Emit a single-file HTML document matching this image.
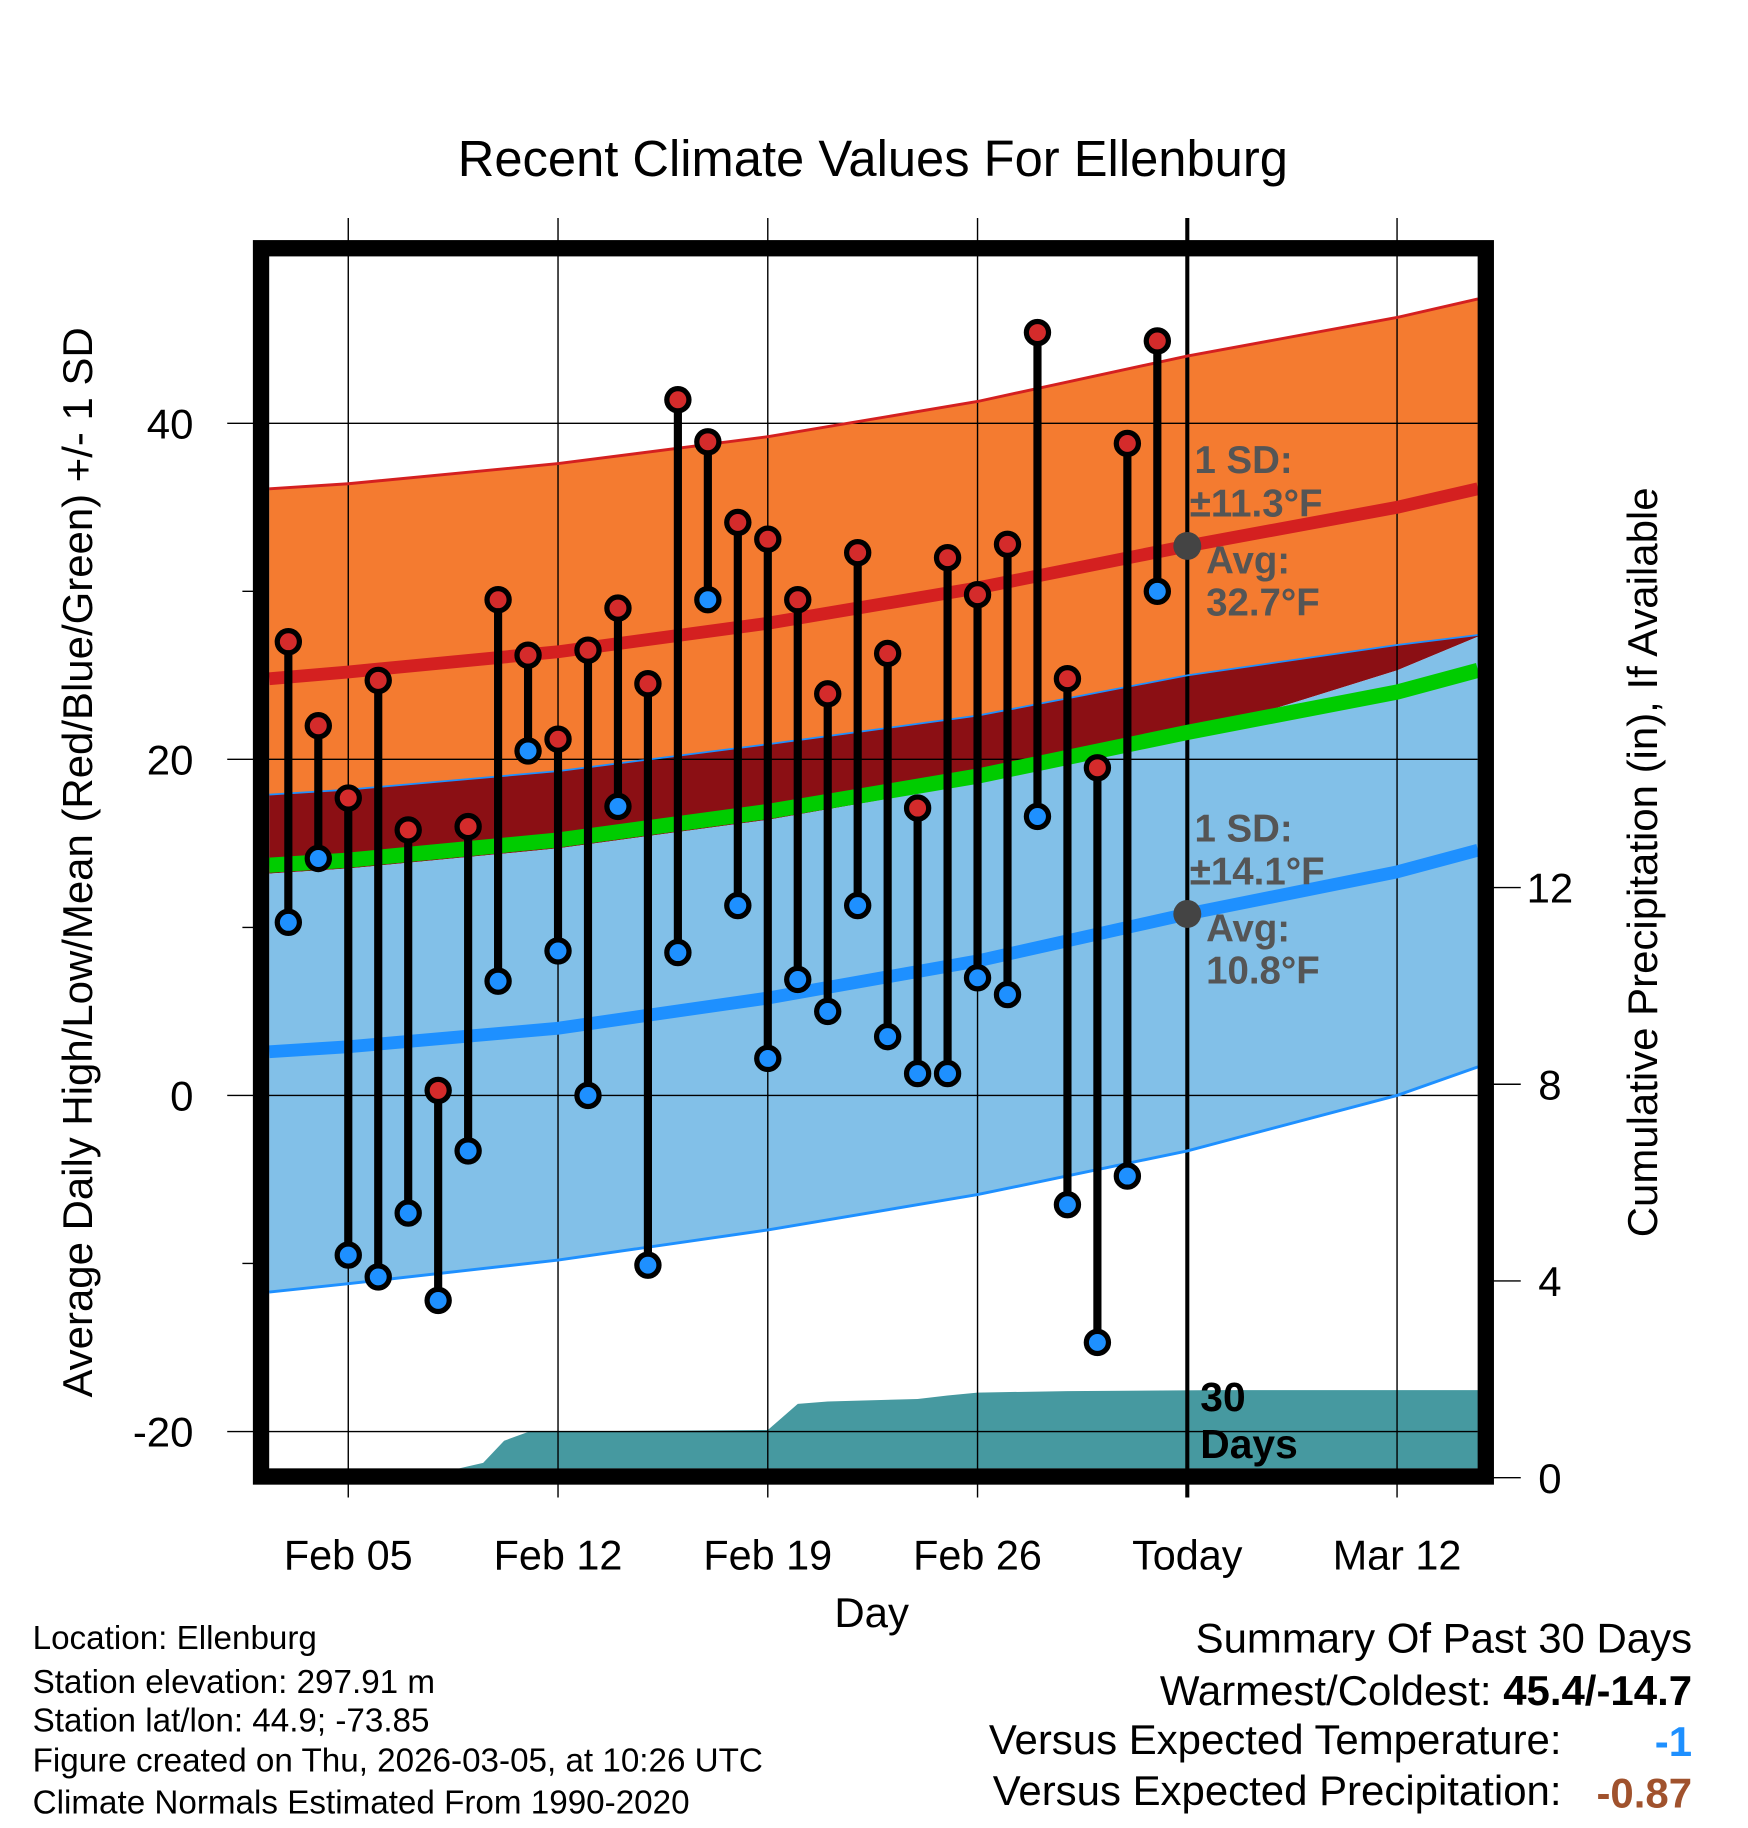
<!DOCTYPE html>
<html><head><meta charset="utf-8"><style>
html,body{margin:0;padding:0;background:#fff;}
svg{display:block;font-family:"Liberation Sans",sans-serif;}
</style></head><body>
<svg id="chart" width="1748" height="1828" viewBox="0 0 1500 1568.6" xmlns="http://www.w3.org/2000/svg">
<text x="749" y="151" font-size="43.5" text-anchor="middle">Recent Climate Values For Ellenburg</text>
<g id="bands"></g><g id="grid"></g><g id="lines"></g><g id="marks"></g>
<rect x="224" y="213" width="1051" height="1054" fill="none" stroke="#000" stroke-width="14"/>
<g id="axes"></g>
<g fill="#555" font-weight="bold" font-size="33">
<text x="1025" y="406">1 SD:</text><text x="1021" y="443">±11.3°F</text>
<text x="1035" y="492">Avg:</text><text x="1035" y="528">32.7°F</text></g>
<g fill="#555" font-weight="bold" font-size="33">
<text x="1025" y="722">1 SD:</text><text x="1021" y="759">±14.1°F</text>
<text x="1035" y="808">Avg:</text><text x="1035" y="844">10.8°F</text></g>
<g font-weight="bold" font-size="35"><text x="1030" y="1211">30</text><text x="1030" y="1251">Days</text></g>
<text x="748" y="1396" font-size="36" text-anchor="middle">Day</text>
<text transform="translate(79,740) rotate(-90)" font-size="36" text-anchor="middle">Average Daily High/Low/Mean (Red/Blue/Green) +/- 1 SD</text>
<text transform="translate(1422,740) rotate(-90)" font-size="36" text-anchor="middle">Cumulative Precipitation (in), If Available</text>
<g font-size="28.5">
<text x="28" y="1415">Location: Ellenburg</text>
<text x="28" y="1453">Station elevation: 297.91 m</text>
<text x="28" y="1486">Station lat/lon: 44.9; -73.85</text>
<text x="28" y="1520">Figure created on Thu, 2026-03-05, at 10:26 UTC</text>
<text x="28" y="1556">Climate Normals Estimated From 1990-2020</text></g>
<g font-size="36" text-anchor="end">
<text x="1452" y="1418">Summary Of Past 30 Days</text>
<text x="1452" y="1463">Warmest/Coldest: <tspan font-weight="bold">45.4/-14.7</tspan></text>
<text x="1340" y="1505">Versus Expected Temperature:</text>
<text x="1452" y="1507" fill="#1e90ff" font-weight="bold">-1</text>
<text x="1340" y="1549">Versus Expected Precipitation:</text>
<text x="1452" y="1551" fill="#a0522d" font-weight="bold">-0.87</text></g>
</svg>
<script>
const highs=[27,22,17.7,24.7,15.8,0.3,16,29.5,26.2,21.2,26.5,29,24.5,41.4,38.9,34.1,33.1,29.5,23.9,32.3,26.3,17.1,32,29.8,32.8,45.4,24.8,19.5,38.8,44.9];
const lows=[10.3,14.1,-9.5,-10.8,-7,-12.2,-3.3,6.8,20.5,8.6,0,17.2,-10.1,8.5,29.5,11.3,2.2,6.9,5,11.3,3.5,1.3,1.3,7,6,16.6,-6.5,-14.7,-4.8,30];
const normDays=[1.36,4,11,18,25,32,39,41.7];
const hiUp=[36.1,36.4,37.6,39.2,41.3,44.0,46.3,47.4];
const hiAvg=[24.8,25.2,26.4,28.1,30.2,32.7,35.0,36.1];
const hiDn=[17.9,18.2,19.3,20.9,22.6,25.0,26.8,27.4];
const meanAvg=[13.7,14.0,15.2,16.9,19.0,21.6,24.0,25.3];
const loUp=[13.2,13.5,14.7,16.4,18.6,21.4,25.3,27.3];
const loAvg=[2.6,2.9,4.0,5.8,8.0,10.8,13.3,14.6];
const loDn=[-11.7,-11.2,-9.8,-8.0,-5.9,-3.3,0.0,1.7];
const precipDays=[7.7,8.5,9.2,10,11,18,19,20,23,24,25,28,33,41.7];
const precipVals=[0,0.3,0.75,0.93,0.94,0.97,1.5,1.55,1.6,1.67,1.73,1.76,1.78,1.78];
const yTicks=[40,20,0,-20];
const y2Ticks=[0,4,8,12];
const xTickDays=[4,11,18,25,32,39];
const xTickLabels=['Feb 05','Feb 12','Feb 19','Feb 26','Today','Mar 12'];
const firstDay=2;
const NS='http://www.w3.org/2000/svg';
const X=d=>196+25.714*d;
const Y=v=>940-v*14.42;
const Y2=p=>Math.min(1260,1268-p*42.2);
function mk(tag,attrs,parent){const e=document.createElementNS(NS,tag);for(const k in attrs)e.setAttribute(k,attrs[k]);document.getElementById(parent).appendChild(e);return e;}
function pts(days,vals){return days.map((d,i)=>X(d).toFixed(1)+','+Y(vals[i]).toFixed(1));}
function band(top,bot){return pts(normDays,top).concat(pts(normDays,bot).reverse()).join(' ');}
let e;
e=mk('polygon',{points:band(hiUp,hiDn),fill:'#f47b30'},'bands');

e=mk('polygon',{points:band(hiDn,loUp),fill:'#8b0f14'},'bands');

e=mk('polygon',{points:band(loUp,loDn),fill:'#82c0e8'},'bands');

const pp=precipDays.map((d,i)=>X(d).toFixed(1)+','+Y2(precipVals[i]).toFixed(1));
pp.push(X(41.7)+',1260');pp.push(X(precipDays[0])+',1260');
e=mk('polygon',{points:pp.join(' '),fill:'#4699a0'},'bands');

yTicks.forEach(v=>{e=mk('line',{x1:195,x2:1268,y1:Y(v),y2:Y(v),stroke:'#000','stroke-width':1.2},'grid');

e=mk('text',{x:166,y:Y(v)+13,'font-size':36,'text-anchor':'end'},'axes');e.textContent=v;
});
[30,10,-10].forEach(v=>{e=mk('line',{x1:208,x2:222,y1:Y(v),y2:Y(v),stroke:'#000','stroke-width':1.2},'grid');
});
y2Ticks.forEach(p=>{e=mk('line',{x1:1275,x2:1305,y1:1268-p*42.2,y2:1268-p*42.2,stroke:'#000','stroke-width':1.2},'axes');

e=mk('text',{x:1330,y:1268-p*42.2+13,'font-size':36,'text-anchor':'middle'},'axes');e.textContent=p;
});
xTickDays.forEach((d,i)=>{const today=xTickLabels[i]==='Today';
e=mk('line',{x1:X(d),x2:X(d),y1:187,y2:1285,stroke:'#000','stroke-width':today?3.5:1.2},'grid');

e=mk('text',{x:X(d),y:1347,'font-size':35.5,'text-anchor':'middle'},'axes');e.textContent=xTickLabels[i];
});
function line(vals,color,w,name){e=mk('polyline',{points:pts(normDays,vals).join(' '),fill:'none',stroke:color,'stroke-width':w},'lines');
}
line(hiUp,'#d42020',2.5,'high-sd-upper-line');
line(hiDn,'#1e90ff',1.5,'high-sd-lower-line');
line(loDn,'#1e90ff',2.5,'low-sd-lower-line');
line(meanAvg,'#00cc00',13,'mean-normal-line');
line(loAvg,'#1e90ff',11,'low-normal-line');
line(hiAvg,'#d42020',11,'high-normal-line');
highs.forEach((h,i)=>{const x=X(firstDay+i);
e=mk('line',{x1:x,x2:x,y1:Y(h),y2:Y(lows[i]),stroke:'#000','stroke-width':7},'marks');
});
highs.forEach((h,i)=>{const x=X(firstDay+i);
e=mk('circle',{cx:x,cy:Y(h),r:9.5,fill:'#d42b2b',stroke:'#000','stroke-width':4.5},'marks');

e=mk('circle',{cx:x,cy:Y(lows[i]),r:9.5,fill:'#1e90ff',stroke:'#000','stroke-width':4.5},'marks');
});
e=mk('circle',{cx:X(32),cy:Y(32.7),r:12,fill:'#444'},'marks');

e=mk('circle',{cx:X(32),cy:Y(10.8),r:12,fill:'#444'},'marks');

</script>
</body></html>
